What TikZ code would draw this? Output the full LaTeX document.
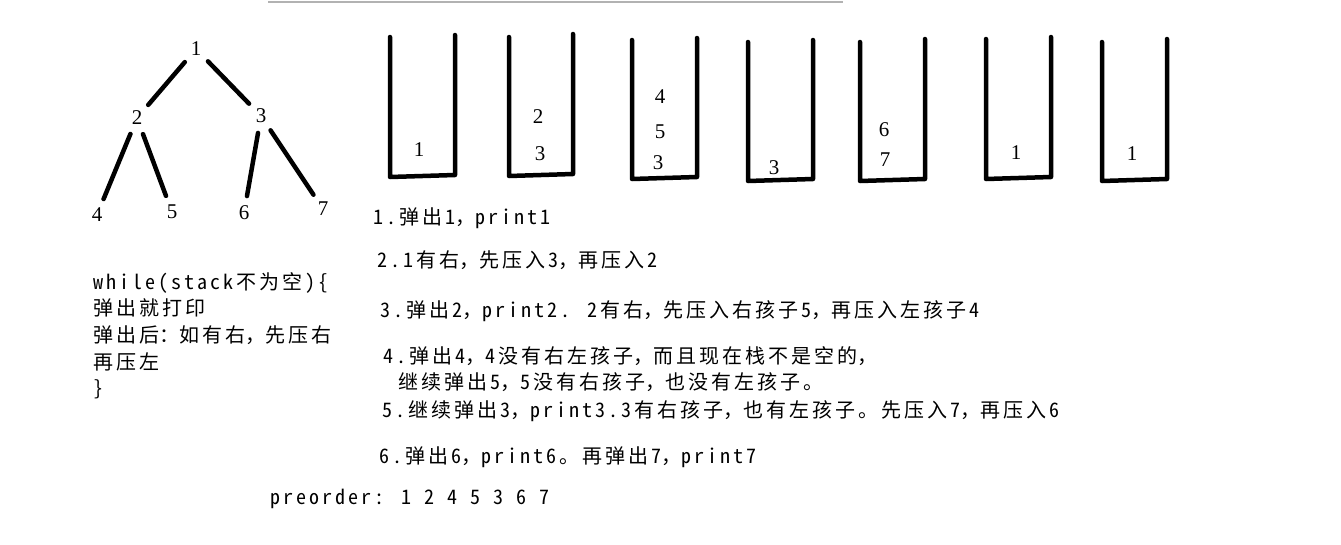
\documentclass[tikz,border=0pt]{standalone}
\usepackage{fontspec}
\newfontfamily\cjk[RawFeature=+hwid,LetterSpace=15]{Noto Sans CJK SC}
\newfontfamily\cjkfull[LetterSpace=15]{Noto Sans CJK SC}
\newfontfamily\numfont{Liberation Serif}
\newcommand{\dou}{{\cjkfull ，}}
\newcommand{\mao}{{\cjkfull ：}}

\tikzset{
  num/.style={font=\numfont\fontsize{21}{24}\selectfont},
  tnode/.style={num, circle, minimum size=34pt, inner sep=0pt},
  branch/.style={line width=4.5pt, line cap=round},
  stackwall/.style={line width=4.5pt, line cap=round, line join=round},
  txt/.style={font=\cjk\fontsize{20}{24}\selectfont, anchor=base west, inner sep=0pt},
}

\begin{document}
\begin{tikzpicture}[x=1pt,y=-1pt]
\useasboundingbox (0,0) rectangle (1341,544);
\draw[gray!60, line width=2pt] (268,2) -- (843,2);
% tree
\node[tnode] (n1) at (196,49) {1};
\node[tnode] (n2) at (137,118) {2};
\node[tnode] (n3) at (261,116) {3};
\node[tnode] (n4) at (97,215) {4};
\node[tnode] (n5) at (172,212) {5};
\node[tnode] (n6) at (244,213) {6};
\node[tnode] (n7) at (323,209) {7};
\draw[branch] (n1) -- (n2);
\draw[branch] (n1) -- (n3);
\draw[branch] (n2) -- (n4);
\draw[branch] (n2) -- (n5);
\draw[branch] (n3) -- (n6);
\draw[branch] (n3) -- (n7);
% stacks
\draw[stackwall] (390,37) -- (390,177) -- (455,175) -- (455,35);
\draw[stackwall] (509,37) -- (509,176) -- (573,174) -- (573,34);
\draw[stackwall] (632,40) -- (632,179) -- (697,177) -- (697,38);
\draw[stackwall] (748,42) -- (748,181) -- (813,179) -- (813,40);
\draw[stackwall] (860,42) -- (860,181) -- (925,179) -- (925,39);
\draw[stackwall] (986,39) -- (986,179) -- (1051,177) -- (1051,37);
\draw[stackwall] (1102,42) -- (1102,181) -- (1167,179) -- (1167,39);
\node[num] (s1a) at (419,150) {1};
\node[num] (s2a) at (538,117) {2};
\node[num] (s2b) at (540,154) {3};
\node[num] (s3a) at (660,97) {4};
\node[num] (s3b) at (660,132) {5};
\node[num] (s3c) at (658,163) {3};
\node[num] (s4a) at (774,168) {3};
\node[num] (s5a) at (884,130) {6};
\node[num] (s5b) at (885,160) {7};
\node[num] (s6a) at (1016,153) {1};
\node[num] (s7a) at (1132,154) {1};
% steps
\node[txt] (t1) at (373,224) {1.弹出1\dou print1};
\node[txt] (t2) at (377,267) {2.1有右\dou 先压入3\dou 再压入2};
\node[txt] (t3) at (380,317) {3.弹出2\dou print2. 2有右\dou 先压入右孩子5\dou 再压入左孩子4};
\node[txt] (t4) at (383,363) {4.弹出4\dou 4没有右左孩子\dou 而且现在栈不是空的\dou};
\node[txt] (t4b) at (398,389) {继续弹出5\dou 5没有右孩子\dou 也没有左孩子。};
\node[txt] (t5) at (382,417) {5.继续弹出3\dou print3.3有右孩子\dou 也有左孩子。先压入7\dou 再压入6};
\node[txt] (t6) at (379,463) {6.弹出6\dou print6。再弹出7\dou print7};
\node[txt] (pre) at (270,504) {preorder: 1 2 4 5 3 6 7};
% loop
\node[txt] (code1) at (93,289) {while(stack不为空)\{};
\node[txt] (code2) at (93,315) {弹出就打印};
\node[txt] (code3) at (93,342) {弹出后\mao 如有右\dou 先压右};
\node[txt] (code4) at (93,369) {再压左};
\node[txt] (code5) at (93,395) {\}};
\end{tikzpicture}
\end{document}
